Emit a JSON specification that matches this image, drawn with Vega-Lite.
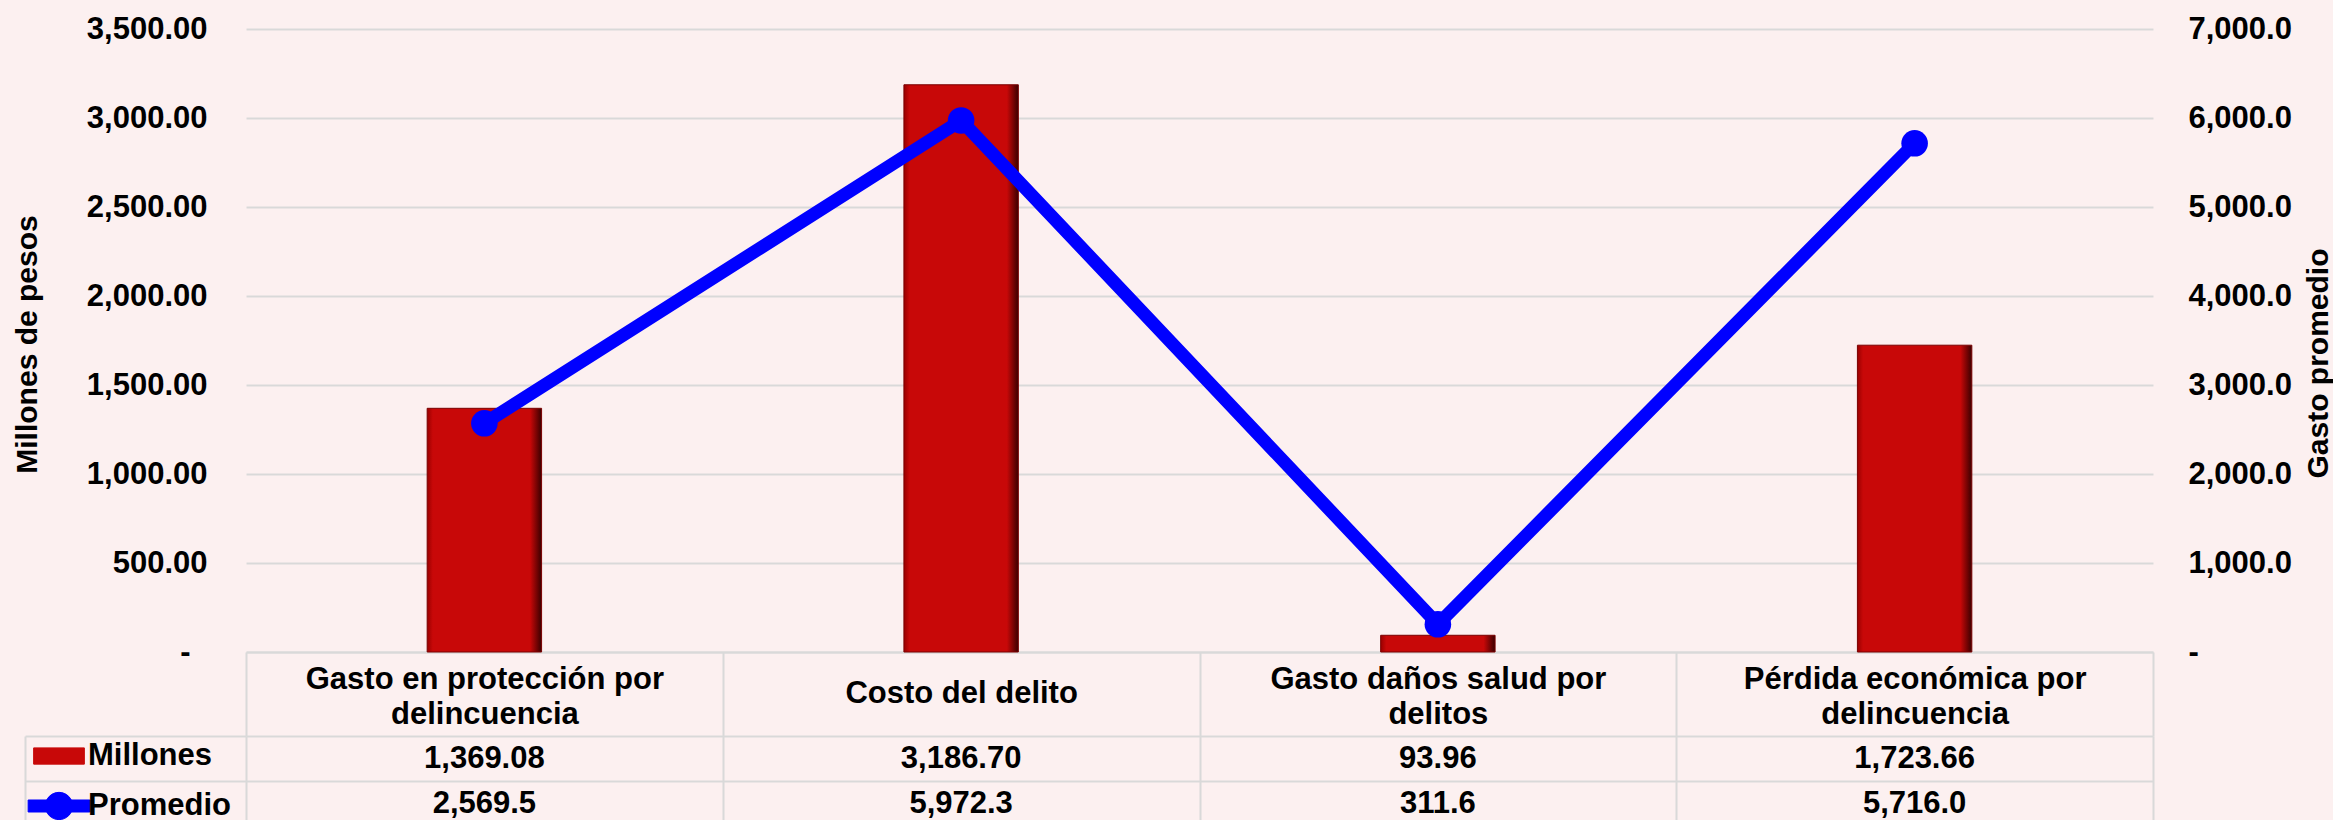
{
  "$schema": "https://vega.github.io/schema/vega-lite/v6.json",
  "background": "#FCF0F0",
  "padding": {"left": 12, "top": 13, "right": 0, "bottom": 0},
  "config": {"font": "Liberation Sans", "view": {"stroke": null}},
  "datasets": {
    "main": [
      {"categoria": "Gasto en protección por delincuencia", "millones": 1369.08, "promedio": 2569.5},
      {"categoria": "Costo del delito", "millones": 3186.70, "promedio": 5972.3},
      {"categoria": "Gasto daños salud por delitos", "millones": 93.96, "promedio": 311.6},
      {"categoria": "Pérdida económica por delincuencia", "millones": 1723.66, "promedio": 5716.0}
    ]
  },
  "bounds": "flush",
  "spacing": 84,
  "vconcat": [
    {
      "width": 1907,
      "height": 623,
      "data": {"name": "main"},
      "encoding": {
        "x": {
          "field": "categoria", "type": "nominal", "sort": null,
          "scale": {"paddingInner": 0, "paddingOuter": 0},
          "axis": {
            "title": null,
            "labelExpr": "datum.label == 'Gasto en protección por delincuencia' ? ['Gasto en protección por', 'delincuencia'] : datum.label == 'Gasto daños salud por delitos' ? ['Gasto daños salud por', 'delitos'] : datum.label == 'Pérdida económica por delincuencia' ? ['Pérdida económica por', 'delincuencia'] : datum.label",
            "labelFont": "Liberation Sans", "labelFontSize": 31, "labelFontWeight": "bold", "labelColor": "black",
            "labelBaseline": "middle", "labelLineHeight": 35,
            "labelPadding": {"condition": {"test": "datum.label == 'Costo del delito'", "value": -43}, "value": -57},
            "labelAngle": 0, "labelLimit": 470,
            "ticks": true, "tickBand": "extent", "tickSize": 84, "tickColor": "#d9d9d9", "tickWidth": 2,
            "domain": true, "domainColor": "#d9d9d9", "domainWidth": 2, "grid": false
          }
        }
      },
      "layer": [
        {
          "mark": {
            "type": "bar", "width": {"band": 0.24},
            "fill": {"x1": 0, "y1": 0, "x2": 1, "y2": 0, "gradient": "linear",
              "stops": [
                {"offset": 0, "color": "#9a0000"},
                {"offset": 0.05, "color": "#c80808"},
                {"offset": 0.9, "color": "#c80808"},
                {"offset": 1, "color": "#3a0000"}
              ]},
            "stroke": "#7a0000", "strokeWidth": 1
          },
          "encoding": {
            "y": {
              "field": "millones", "type": "quantitative",
              "scale": {"domain": [0, 3500]},
              "axis": {
                "orient": "left", "values": [0, 500, 1000, 1500, 2000, 2500, 3000, 3500],
                "labelExpr": "datum.value == 0 ? '-' : format(datum.value, ',.2f')",
                "labelFont": "Liberation Sans", "labelFontSize": 31, "labelFontWeight": "bold", "labelColor": "black",
                "labelPadding": {"condition": {"test": "datum.value == 0", "value": 56}, "value": 39},
                "ticks": false, "domain": false,
                "grid": true, "gridColor": "#d9d9d9", "gridWidth": 2,
                "title": "Millones de pesos", "titleFont": "Liberation Sans", "titleFontSize": 30, "titleFontWeight": "bold", "titleColor": "black",
                "titleAngle": 270, "titleX": -219, "titleY": 315, "titleBaseline": "middle", "titleAlign": "center"
              }
            }
          }
        },
        {
          "mark": {
            "type": "line", "strokeWidth": 13, "strokeJoin": "round", "strokeCap": "round",
            "point": {"filled": true, "size": 707, "color": "#0000FF", "opacity": 1}
          },
          "encoding": {
            "y": {
              "field": "promedio", "type": "quantitative",
              "scale": {"domain": [0, 7000]},
              "axis": {
                "orient": "right", "values": [0, 1000, 2000, 3000, 4000, 5000, 6000, 7000],
                "labelExpr": "datum.value == 0 ? '-' : format(datum.value, ',.1f')",
                "labelFont": "Liberation Sans", "labelFontSize": 31, "labelFontWeight": "bold", "labelColor": "black",
                "labelAlign": "left", "labelPadding": 35, "ticks": false, "domain": false, "grid": false,
                "title": "Gasto promedio", "titleFont": "Liberation Sans", "titleFontSize": 30, "titleFontWeight": "bold", "titleColor": "black",
                "titleAngle": 270, "titleX": 165, "titleY": 334, "titleBaseline": "middle", "titleAlign": "center"
              }
            },
            "color": {
              "datum": "Promedio", "type": "nominal",
              "scale": {"domain": ["Millones", "Promedio"], "range": ["#C80808", "#0000FF"]},
              "legend": {
                "orient": "none", "legendX": -220, "legendY": 694, "title": null,
                "symbolSize": 1600, "labelFont": "Liberation Sans", "labelFontSize": 31, "labelFontWeight": "bold", "labelColor": "black",
                "labelOffset": -4, "rowPadding": 2, "padding": 0, "offset": 0, "symbolOffset": 0, "labelLimit": 300,
                "encode": {
                  "symbols": {
                    "update": {
                      "shape": {"signal": "datum.value === 'Millones' ? 'M-0.78,-0.25H0.78V0.25H-0.78Z' : 'M-0.95,-0.185H0.95V0.185H-0.95Z M0.42,0 A0.42,0.42 0 1,1 -0.42,0 A0.42,0.42 0 1,1 0.42,0 Z'"},
                      "size": {"value": 4225},
                      "fill": {"signal": "datum.value === 'Millones' ? '#C80808' : '#0000FF'"},
                      "stroke": {"signal": "datum.value === 'Millones' ? '#7a0000' : '#0000FF'"},
                      "strokeWidth": {"value": 1},
                      "opacity": {"value": 1},
                      "fillOpacity": {"value": 1}
                    }
                  }
                }
              }
            }
          }
        }
      ],
      "resolve": {"scale": {"y": "independent"}}
    },
    {
      "width": 1907,
      "height": 90,
      "data": {"name": "main"},
      "encoding": {
        "x": {
          "field": "categoria", "type": "nominal", "sort": null,
          "scale": {"paddingInner": 0, "paddingOuter": 0},
          "axis": {
            "orient": "top", "title": null, "labels": false, "ticks": false, "domain": false,
            "grid": true, "tickBand": "extent", "gridColor": "#d9d9d9", "gridWidth": 2
          }
        }
      },
      "layer": [
        {
          "mark": {"type": "text", "font": "Liberation Sans", "fontSize": 31, "fontWeight": "bold", "color": "black", "baseline": "middle"},
          "encoding": {
            "y": {
              "datum": "Millones", "type": "nominal",
              "scale": {"type": "band", "domain": ["Millones", "Promedio"], "paddingInner": 0, "paddingOuter": 0},
              "axis": {
                "orient": "left", "offset": 221, "title": null, "labels": false,
                "domain": true, "domainColor": "#d9d9d9", "domainWidth": 2,
                "ticks": true, "tickSize": -221, "tickBand": "extent", "tickColor": "#d9d9d9", "tickWidth": 2,
                "grid": true, "gridColor": "#d9d9d9", "gridWidth": 2
              }
            },
            "text": {"field": "millones", "type": "quantitative", "format": ",.2f"}
          }
        },
        {
          "mark": {"type": "text", "font": "Liberation Sans", "fontSize": 31, "fontWeight": "bold", "color": "black", "baseline": "middle"},
          "encoding": {
            "y": {"datum": "Promedio", "type": "nominal"},
            "text": {"field": "promedio", "type": "quantitative", "format": ",.1f"}
          }
        }
      ]
    }
  ]
}
